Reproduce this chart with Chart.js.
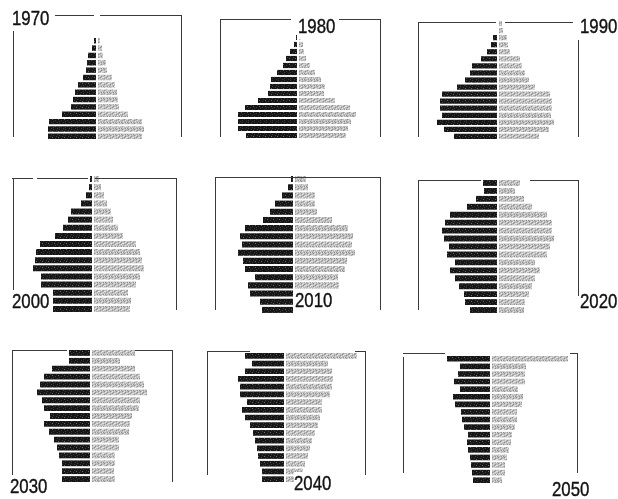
<!DOCTYPE html>
<html>
<head>
<meta charset="utf-8">
<script src="https://cdn.jsdelivr.net/npm/chart.js@4/dist/chart.umd.min.js"></script>
<style>
  html, body { margin: 0; padding: 0; background: #fff; }
  #stage { position: relative; width: 618px; height: 499px; overflow: hidden; background: #fff; }
  #stage canvas { position: absolute; }
  .rule { position: absolute; background: #3a3a3a; }
  .year {
    position: absolute; font-family: "Liberation Sans", Arial, sans-serif;
    font-size: 21px; line-height: 21px; color: #111; background: #fff;
    -webkit-text-stroke: 0.4px #111;
    padding: 0 2px 3px 0; transform: scaleX(0.8); transform-origin: left top;
  }
</style>
</head>
<body>
<div id="stage"></div>
<script>
// -----------------------------
// DATA (age groups bottom -> top, male left / female right)
// -----------------------------
const ageGroups = ["0-4","5-9","10-14","15-19","20-24","25-29","30-34","35-39","40-44",
                   "45-49","50-54","55-59","60-64","65-69","70-74","75-79","80+"];
const years = ["1970","1980","1990","2000","2010","2020","2030","2040","2050"];

const male1970   = [49,49,48,35,26,24,22,19,14,11,10,9,5,3,1,0,0];
const female1970 = [45,47,45,31,22,21,20,18,15,10,9,6,5,3,1,0,0];
const male1980   = [52,60,60,60,53,40,30,28,27,21,15,12,8,4,2,0,0];
const female1980 = [48,50,53,58,52,37,26,27,23,17,12,8,6,5,3,0,0];
const male1990   = [44,54,61,56,58,58,56,41,33,28,26,17,11,7,5,1,1];
const female1990 = [41,51,56,53,54,54,52,37,31,27,24,22,12,10,9,5,4];
const male2000   = [40,40,40,52,52,60,58,57,53,38,30,25,22,12,7,4,3];
const female2000 = [37,38,35,43,47,51,49,47,43,30,25,20,18,14,11,8,6];
const male2010   = [32,34,44,46,39,49,51,56,52,54,49,31,24,19,12,6,3];
const female2010 = [30,33,40,45,44,51,53,61,58,59,54,38,23,21,21,14,12];
const male2020   = [28,33,34,39,43,48,43,51,49,54,56,53,48,31,22,14,15];
const female2020 = [26,27,31,34,37,42,37,49,52,56,54,54,49,34,26,17,22];
const male2030   = [29,29,29,32,34,37,42,47,41,47,49,54,51,47,39,22,22];
const female2030 = [24,23,24,24,28,28,38,39,41,48,49,56,53,49,44,29,44];
const male2040   = [23,23,25,27,28,30,32,35,40,43,38,45,45,47,40,33,40];
const female2040 = [17,18,20,23,25,27,30,33,35,37,37,45,47,48,47,43,72];
const male2050   = [18,19,20,21,23,24,23,27,29,30,36,38,31,37,33,31,44];
const female2050 = [11,14,14,16,18,20,21,24,26,26,31,32,27,34,34,35,77];

const maleSeries   = [male1970, male1980, male1990, male2000, male2010, male2020, male2030, male2040, male2050];
const femaleSeries = [female1970, female1980, female1990, female2000, female2010, female2020, female2030, female2040, female2050];

// -----------------------------
// LAYOUT (panel placement, frame rules, year labels)
// -----------------------------
const layout = [
  { cx: 97,  top: 15,  bottom: 140, label: [12, 7],
    rules: [[55,15,94,15],[100,15,181,15],[13,29,13,137],[181,15,181,137]] },
  { cx: 298, top: 20,  bottom: 139, label: [298, 15],
    rules: [[220,19,291,19],[339,19,380,19],[220,19,220,137],[380,19,380,137]] },
  { cx: 498, top: 20,  bottom: 140, label: [580, 15],
    rules: [[418,22,496,22],[505,22,573,22],[418,22,418,137],[578,40,578,137]] },
  { cx: 93,  top: 175, bottom: 313, label: [12, 290],
    rules: [[12,178,33,178],[37,178,88,178],[95,178,176,178],[13,178,13,290],[176,178,176,310]] },
  { cx: 294, top: 175, bottom: 314, label: [295, 289],
    rules: [[215,177,380,177],[215,177,215,310],[380,177,380,310]] },
  { cx: 498, top: 179, bottom: 314, label: [580, 290],
    rules: [[418,180,481,180],[530,180,578,180],[418,180,418,310],[578,180,578,296]] },
  { cx: 91,  top: 349, bottom: 483, label: [10, 475],
    rules: [[12,350,67,350],[135,350,172,350],[12,350,12,482],[172,350,172,482]] },
  { cx: 285, top: 352, bottom: 483, label: [294, 472],
    rules: [[207,351,250,351],[355,351,365,351],[207,351,207,475],[365,351,365,475]] },
  { cx: 491, top: 355, bottom: 484, label: [552, 478],
    rules: [[403,353,445,353],[570,353,577,353],[403,357,403,473],[577,353,577,473]] }
];

const stage = document.getElementById("stage");
const HALF = 90;

// light screen on the fills, like the printed halftone
function makeScreen(rows, palette) {
  const tile = document.createElement("canvas");
  tile.width = rows[0].length;
  tile.height = rows.length;
  const ctx = tile.getContext("2d");
  rows.forEach((row, y) => {
    [...row].forEach((ch, x) => {
      ctx.fillStyle = palette[ch];
      ctx.fillRect(x, y, 1, 1);
    });
  });
  return ctx.createPattern(tile, "repeat");
}
const maleFill = makeScreen(
  ["####+#", "#+####", "###.##", "+#####", "####+#", "##+###"],
  { "#": "#161616", "+": "#3c3c3c", ".": "#6a6a6a" });
const femaleFill = makeScreen(
  ["lglwll", "llwlgl", "wllglw", "lgllwl", "llwlll", "glllgw"],
  { w: "#e2e2e2", l: "#bdbdbd", g: "#909090" });

function addRule(x1, y1, x2, y2) {
  const d = document.createElement("div");
  d.className = "rule";
  d.style.left = Math.min(x1, x2) + "px";
  d.style.top = Math.min(y1, y2) + "px";
  d.style.width = Math.max(1, Math.abs(x2 - x1)) + "px";
  d.style.height = Math.max(1, Math.abs(y2 - y1)) + "px";
  stage.appendChild(d);
}

function drawPyramid(i) {
  const p = layout[i];
  const canvas = document.createElement("canvas");
  canvas.width = HALF * 2;
  canvas.height = p.bottom - p.top;
  canvas.style.left = (p.cx - HALF) + "px";
  canvas.style.top = p.top + "px";
  stage.appendChild(canvas);

  new Chart(canvas, {
    type: "bar",
    data: {
      labels: ageGroups,
      datasets: [
        {
          label: "Male",
          data: maleSeries[i].map(v => v > 1 ? [-v, -1] : null),
          backgroundColor: maleFill,
          grouped: false, barPercentage: 0.74, categoryPercentage: 1
        },
        {
          label: "Female",
          data: femaleSeries[i].map(v => v > 1 ? [1, v] : null),
          backgroundColor: femaleFill,
          grouped: false, barPercentage: 0.74, categoryPercentage: 1
        }
      ]
    },
    options: {
      indexAxis: "y",
      responsive: false,
      animation: false,
      layout: { padding: 0 },
      plugins: { legend: { display: false }, tooltip: { enabled: false } },
      scales: {
        x: { display: false, min: -HALF, max: HALF },
        y: { display: false, reverse: true }
      }
    }
  });

  p.rules.forEach(r => addRule(r[0], r[1], r[2], r[3]));

  const lab = document.createElement("div");
  lab.className = "year";
  lab.textContent = years[i];
  lab.style.left = p.label[0] + "px";
  lab.style.top = p.label[1] + "px";
  stage.appendChild(lab);
}

years.forEach((y, i) => drawPyramid(i));
</script>
</body>
</html>
